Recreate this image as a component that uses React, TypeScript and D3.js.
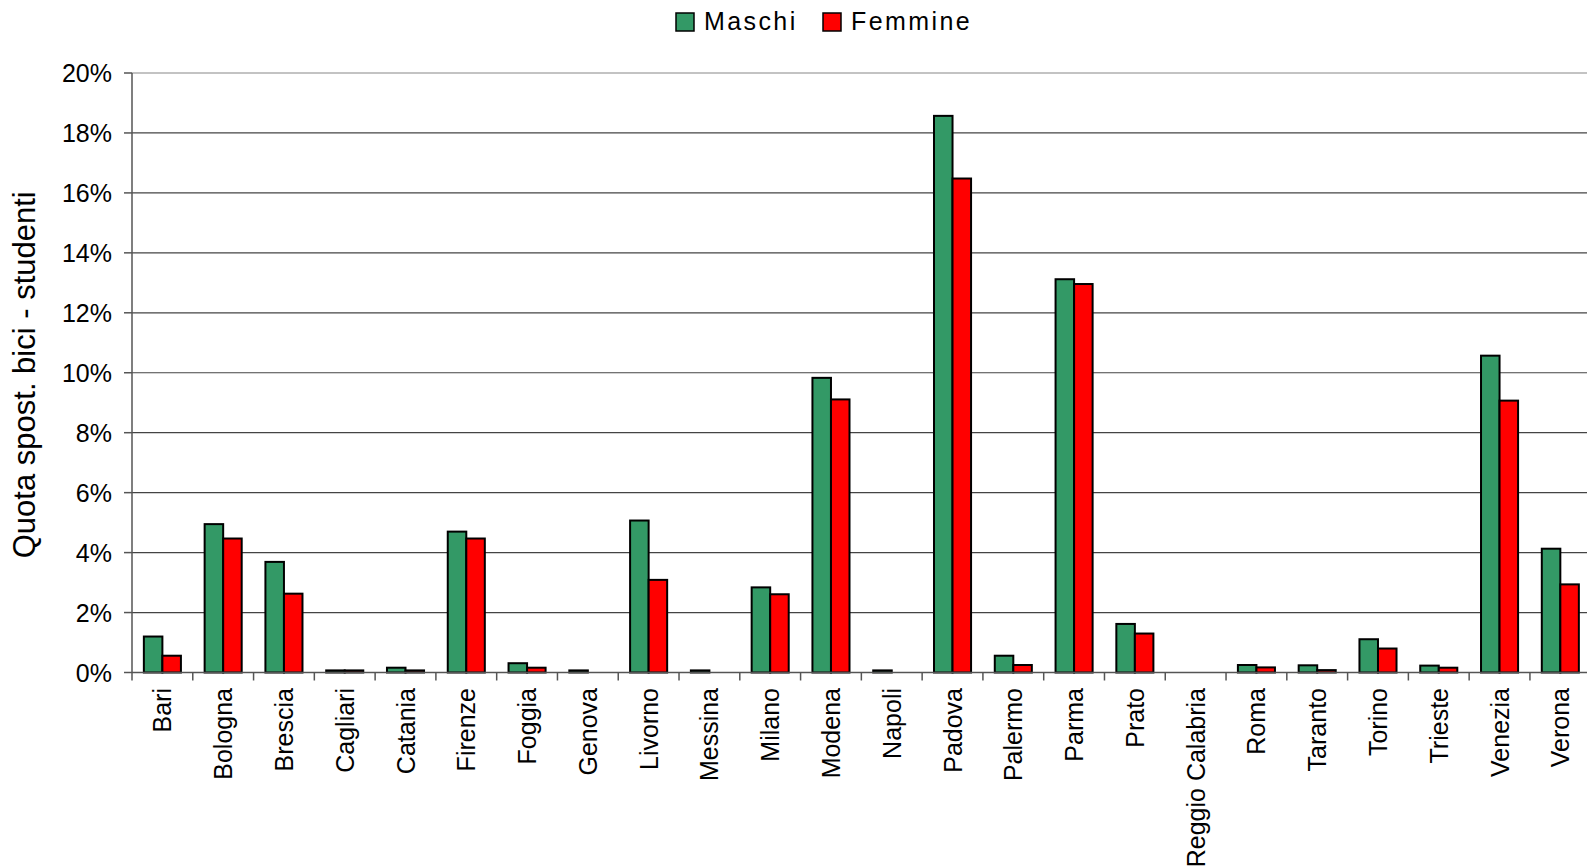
import React from "react";
import * as d3 from "d3";

// Cycling share of student trips by city, split by gender
const cities = [
  "Bari", "Bologna", "Brescia", "Cagliari", "Catania", "Firenze", "Foggia", "Genova",
  "Livorno", "Messina", "Milano", "Modena", "Napoli", "Padova", "Palermo", "Parma",
  "Prato", "Reggio Calabria", "Roma", "Taranto", "Torino", "Trieste", "Venezia", "Verona",
];
const maschi = [
  1.2, 4.95, 3.69, 0.07, 0.16, 4.7, 0.31, 0.07,
  5.07, 0.07, 2.84, 9.83, 0.07, 18.57, 0.56, 13.12,
  1.62, 0, 0.25, 0.24, 1.11, 0.23, 10.57, 4.13,
];
const femmine = [
  0.56, 4.47, 2.63, 0.07, 0.07, 4.47, 0.16, 0,
  3.09, 0, 2.61, 9.11, 0, 16.48, 0.25, 12.96,
  1.3, 0, 0.17, 0.08, 0.8, 0.16, 9.07, 2.94,
];
const yTicks = [0, 2, 4, 6, 8, 10, 12, 14, 16, 18, 20];
const seriesNames = ["Maschi", "Femmine"];
const seriesColors = ["#339966", "#FF0000"];

const W = 1587;
const H = 868;
const left = 132;
const step = 60.78;
const y0 = 672.5;
const yTop = 73;
const font = "'Liberation Sans', Arial, sans-serif";

export default function App() {
  const x = d3
    .scaleBand<string>()
    .domain(cities)
    .range([left, left + step * cities.length])
    .padding(0);
  const xs = d3
    .scaleBand<string>()
    .domain(seriesNames)
    .range([0, x.bandwidth()])
    .paddingInner(0)
    .paddingOuter(0.64);
  const y = d3.scaleLinear().domain([0, 20]).range([y0, yTop]);
  const values = [maschi, femmine];

  return (
    <svg
      width={W}
      height={H}
      style={{ position: "absolute", left: 0, top: 0, background: "#fff" }}
      fontFamily={font}
    >
      {/* legend */}
      <g>
        {seriesNames.map((s, i) => {
          const lx = i === 0 ? 676 : 823;
          return (
            <g key={s}>
              <rect x={lx} y={13} width={18} height={18} fill={seriesColors[i]} stroke="#000" strokeWidth={1.5} />
              <text x={lx + 28} y={30} fontSize={25} letterSpacing={2.4} fill="#000">
                {s}
              </text>
            </g>
          );
        })}
      </g>

      {/* grid lines */}
      {yTicks.map((t) => (
        <line
          key={"g" + t}
          x1={left}
          x2={W}
          y1={y(t)}
          y2={y(t)}
          stroke={t === 20 ? "#888" : "#444"}
          strokeWidth={1.2}
        />
      ))}

      {/* y axis */}
      <line x1={left} x2={left} y1={yTop} y2={y0} stroke="#555" strokeWidth={1.5} />
      {yTicks.map((t) => (
        <g key={"t" + t}>
          <line x1={left - 8} x2={left} y1={y(t)} y2={y(t)} stroke="#555" strokeWidth={1.5} />
          <text x={112} y={y(t)} dy="0.36em" textAnchor="end" fontSize={25} fill="#000">
            {t + "%"}
          </text>
        </g>
      ))}
      <text
        transform={`translate(35, ${(y0 + yTop) / 2 + 2}) rotate(-90)`}
        textAnchor="middle"
        fontSize={31}
        fill="#000"
      >
        Quota spost. bici - studenti
      </text>

      {/* bars */}
      {cities.map((c, ci) =>
        values.map((vals, si) => {
          const v = vals[ci];
          if (v <= 0) return null;
          const bx = (x(c) as number) + (xs(seriesNames[si]) as number);
          return (
            <rect
              key={c + si}
              x={bx}
              y={y(v)}
              width={xs.bandwidth()}
              height={y0 - y(v)}
              fill={seriesColors[si]}
              stroke="#000"
              strokeWidth={2}
            />
          );
        })
      )}

      {/* x axis */}
      <line x1={left} x2={W} y1={y0} y2={y0} stroke="#555" strokeWidth={1.5} />
      {cities.map((c) => (
        <line
          key={"xt" + c}
          x1={x(c) as number}
          x2={x(c) as number}
          y1={y0}
          y2={y0 + 8}
          stroke="#555"
          strokeWidth={1.5}
        />
      ))}
      {cities.map((c) => {
        const cx = (x(c) as number) + x.bandwidth() / 2;
        return (
          <text
            key={"l" + c}
            transform={`translate(${cx}, 688) rotate(-90)`}
            dy="0.36em"
            textAnchor="end"
            fontSize={25}
            fill="#000"
          >
            {c}
          </text>
        );
      })}
    </svg>
  );
}
